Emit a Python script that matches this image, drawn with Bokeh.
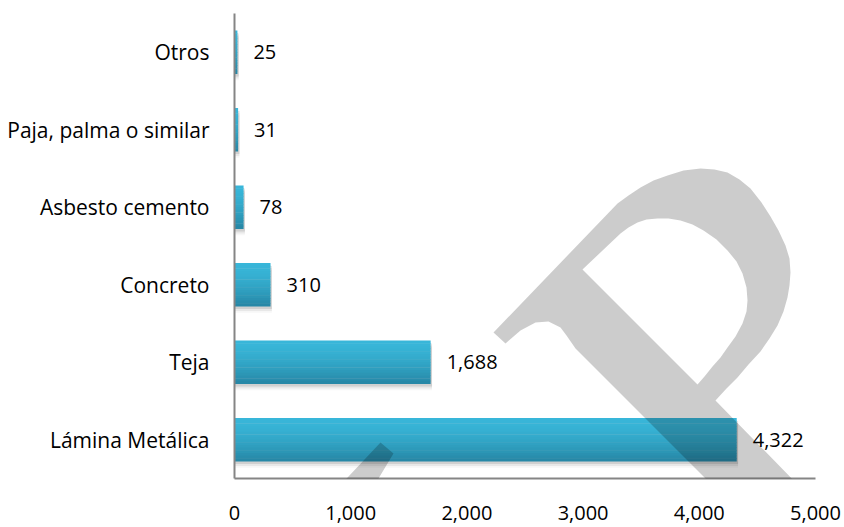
from bokeh.plotting import figure
from bokeh.models import (FactorRange, Range1d, FixedTicker, NumeralTickFormatter,
                          ColumnDataSource, PolyAnnotation)
from bokeh.transform import dodge
from bokeh.core.properties import value
from bokeh.embed import file_html
from bokeh.resources import INLINE

# ---------------- data ----------------
categories = ["Lámina Metálica", "Teja", "Concreto", "Asbesto cemento",
              "Paja, palma o similar", "Otros"]
counts = [4322, 1688, 310, 78, 31, 25]
x_ticks = [0, 1000, 2000, 3000, 4000, 5000]
x_max = 5000

# ---------------- style ----------------
FONT = "Open Sans"
FS = "20px"
FS_CAT = "21px"
W, H = 844, 527
BAR_H = 0.555
TOP_RGB = (56, 182, 217)
BOT_RGB = (38, 134, 164)
N_SLICES = 16

labels = [f"{v:,}" for v in counts]
src = ColumnDataSource(dict(cat=categories, count=counts, label=labels,
                            shadow_right=[v + 12 for v in counts]))

p = figure(width=W, height=H,
           y_range=FactorRange(factors=categories),
           x_range=Range1d(0, x_max),
           output_backend="svg", toolbar_location=None,
           min_border_left=234, min_border_right=29,
           min_border_top=13, min_border_bottom=49)

# soft shadow under bars
for off, a in [(0.035, 0.10), (0.06, 0.06), (0.085, 0.03)]:
    p.hbar(y=dodge("cat", -off, range=p.y_range), left=0, right="shadow_right",
           height=BAR_H, source=src, fill_color="black", fill_alpha=a, line_color=None)

# gradient bars (stacked thin horizontal slices)
sh = BAR_H / N_SLICES
for i in range(N_SLICES):
    t = (i + 0.5) / N_SLICES
    tt = t ** 1.6
    rgb = tuple(int(round(TOP_RGB[k] + (BOT_RGB[k] - TOP_RGB[k]) * tt)) for k in range(3))
    col = "#%02x%02x%02x" % rgb
    off = BAR_H / 2 - (i + 0.5) * sh
    p.hbar(y=dodge("cat", off, range=p.y_range), left=0, right="count",
           height=sh * 1.15, source=src, fill_color=col, line_color=None)

# value labels
p.text(x="count", y="cat", text="label", source=src, x_offset=16,
       text_baseline="middle", text_align="left",
       text_font=value(FONT), text_font_size=FS, text_color="#000000")

# axes
p.xgrid.visible = False
p.ygrid.visible = False
p.outline_line_color = None
p.background_fill_color = "white"
p.border_fill_color = "white"

ax = p.xaxis[0]
ax.ticker = FixedTicker(ticks=x_ticks)
ax.formatter = NumeralTickFormatter(format="0,0")
ax.major_tick_line_color = None
ax.minor_tick_line_color = None
ax.axis_line_color = "#858585"
ax.axis_line_width = 2
ax.major_label_standoff = 21
ax.major_label_text_font = FONT
ax.major_label_text_font_size = FS
ax.major_label_text_color = "#000000"

ay = p.yaxis[0]
ay.major_tick_line_color = None
ay.minor_tick_line_color = None
ay.axis_line_color = "#858585"
ay.axis_line_width = 2
ay.major_label_standoff = 19
ay.major_label_text_font = FONT
ay.major_label_text_font_size = FS_CAT
ay.major_label_text_color = "#000000"

# ---------------- decorative watermark (canvas pixels) ----------------
wm_outer_a = [(493, 332), (617, 203)]
wm_hole = [(620, 233), (582, 269), (697, 384), (704, 376), (712, 366), (720, 357),
           (727, 347), (735, 336), (742, 323), (746, 311), (747, 300), (746, 287),
           (742, 273), (736, 261), (727, 250), (716, 239), (703, 230), (692, 224),
           (680, 220), (668, 218), (657, 218), (646, 219), (637, 222), (628, 227),
           (620, 233)]
wm_outer_b = [(617, 203), (628, 195), (640, 187), (653, 180), (667, 175), (683, 170),
              (700, 168), (714, 169), (727, 172), (739, 179), (750, 188), (761, 202),
              (770, 216), (778, 230), (785, 245), (789, 258), (790, 272), (789, 285),
              (787, 297), (783, 311), (777, 325), (769, 338), (760, 351), (748, 364),
              (737, 377), (726, 388), (715, 400), (800, 487), (807, 489), (817, 491),
              (827, 490), (844, 483), (850, 483), (850, 540), (754, 540), (754, 527),
              (575, 348), (566, 335), (560, 327), (548, 321), (535, 322), (520, 330),
              (505, 343)]
wm_piece = [(380, 442), (393, 453), (378, 478), (372, 492), (372, 498), (377, 508),
            (385, 520), (388, 527), (389, 540), (287, 540), (300, 527)]

for pts in [wm_outer_a + wm_hole + wm_outer_b, wm_piece]:
    p.add_layout(PolyAnnotation(xs=[x for x, _ in pts], ys=[y for _, y in pts],
                                xs_units="canvas", ys_units="canvas",
                                fill_color="black", fill_alpha=0.2,
                                line_color=None))

open("out.html", "w").write(file_html(p, INLINE))
